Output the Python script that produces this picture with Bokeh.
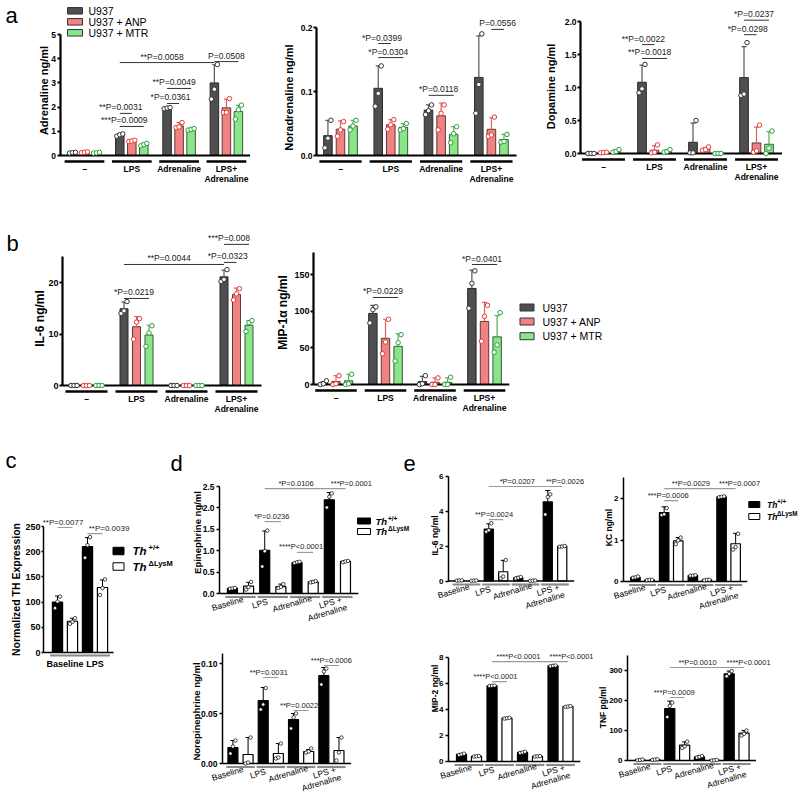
import math
from bokeh.plotting import figure
from bokeh.layouts import row, column
from bokeh.models import Range1d, FixedTicker
from bokeh.core.properties import value
from bokeh.embed import file_html
from bokeh.resources import INLINE

FONT = "Liberation Sans"

# ======================= DATA =======================
A_GROUPS = ["–", "LPS", "Adrenaline", "LPS+\nAdrenaline"]
A_SERIES = ["U937", "U937 + ANP", "U937 + MTR"]
M_GROUPS = ["Baseline", "LPS", "Adrenaline", "LPS +\nAdrenaline"]
C_GROUPS = ["Baseline", "LPS"]
GENO_MAIN = ["Th", "Th"]
GENO_SUP = ["+/+", "ΔLysM"]

# ---- panel a ----
A1_YLABEL = "Adrenaline ng/ml"
A1_TICKS = [0, 1, 2, 3, 4, 5]
A1_TICK_LABELS = ["0", "1", "2", "3", "4", "5"]
A1_MEAN = [[0.12, 0.85, 1.96, 3.00], [0.13, 0.60, 1.22, 1.97], [0.11, 0.45, 1.08, 1.82]]
A1_SD = [[0.02, 0.05, 0.03, 0.75], [0.02, 0.04, 0.14, 0.36], [0.02, 0.05, 0.04, 0.25]]
A1_PTS = [
    [[0.10, 0.12, 0.13], [0.80, 0.86, 0.89], [1.93, 1.96, 1.98], [2.33, 2.74, 3.76]],
    [[0.12, 0.13, 0.15], [0.58, 0.60, 0.63], [1.15, 1.18, 1.36], [1.78, 1.78, 2.35]],
    [[0.10, 0.11, 0.13], [0.40, 0.45, 0.50], [1.05, 1.08, 1.11], [1.50, 1.89, 2.08]],
]
A1_SIG = [(1, 0, 1, 1, 1.74, "**P=0.0031"), (1, 0, 1, 2, 1.20, "***P=0.0009"),
          (2, 0, 2, 2, 2.77, "**P=0.0049"), (2, 0, 2, 1, 2.15, "*P=0.0361"),
          (1, 0, 3, 0, 3.84, "**P=0.0058"), (3, 0, 3, 2, 3.88, "P=0.0508")]

A2_YLABEL = "Noradrenaline ng/ml"
A2_TICKS = [0, 0.1, 0.2]
A2_TICK_LABELS = ["0.0", "0.1", "0.2"]
A2_MEAN = [[0.031, 0.105, 0.071, 0.122], [0.041, 0.048, 0.062, 0.041], [0.046, 0.044, 0.033, 0.025]]
A2_SD = [[0.024, 0.035, 0.008, 0.065], [0.013, 0.008, 0.020, 0.018], [0.009, 0.006, 0.012, 0.008]]
A2_PTS = [
    [[0.012, 0.027, 0.055], [0.077, 0.097, 0.140], [0.064, 0.070, 0.079], [0.066, 0.111, 0.190]],
    [[0.030, 0.040, 0.053], [0.041, 0.048, 0.056], [0.040, 0.066, 0.079], [0.030, 0.032, 0.060]],
    [[0.040, 0.046, 0.055], [0.040, 0.042, 0.050], [0.020, 0.034, 0.045], [0.021, 0.022, 0.033]],
]
A2_SIG = [(1, 0, 1, 1, 0.175, "*P=0.0399"), (1, 0, 1, 2, 0.153, "*P=0.0304"),
          (2, 0, 2, 2, 0.094, "*P=0.0118"), (3, 1, 3, 2, 0.197, "P=0.0556")]

A3_YLABEL = "Dopamine ng/ml"
A3_TICKS = [0, 0.5, 1, 1.5, 2]
A3_TICK_LABELS = ["0.0", "0.5", "1.0", "1.5", "2.0"]
A3_MEAN = [[0.0, 1.08, 0.17, 1.15], [0.015, 0.05, 0.065, 0.16], [0.035, 0.03, 0.0, 0.14]]
A3_SD = [[0.0, 0.26, 0.29, 0.47], [0.005, 0.07, 0.025, 0.24], [0.02, 0.02, 0.0, 0.19]]
A3_PTS = [
    [[0.0, 0.0, 0.0], [0.92, 0.98, 1.35], [0.01, 0.01, 0.50], [0.88, 0.90, 1.68]],
    [[0.01, 0.015, 0.02], [0.01, 0.02, 0.13], [0.05, 0.06, 0.10], [0.02, 0.04, 0.43]],
    [[0.02, 0.03, 0.06], [0.02, 0.03, 0.06], [0.0, 0.0, 0.0], [0.0, 0.08, 0.34]],
]
A3_SIG = [(1, 0, 1, 1, 1.65, "**P=0.0022"), (1, 0, 1, 2, 1.44, "**P=0.0018"),
          (3, 0, 3, 2, 2.02, "*P=0.0237"), (3, 0, 3, 1, 1.80, "*P=0.0298")]

# ---- panel b ----
B1_YLABEL = "IL-6 ng/ml"
B1_TICKS = [0, 10, 20]
B1_TICK_LABELS = ["0", "10", "20"]
B1_MEAN = [[0, 14.9, 0, 21.1], [0, 11.4, 0, 17.7], [0, 9.8, 0, 11.7]]
B1_SD = [[0, 1.3, 0, 1.3], [0, 2.0, 0, 1.2], [0, 1.9, 0, 0.9]]
B1_PTS = [
    [[0, 0, 0], [14.0, 14.5, 16.3], [0, 0, 0], [20.2, 20.6, 22.5]],
    [[0, 0, 0], [9.0, 12.3, 13.0], [0, 0, 0], [16.6, 17.8, 18.8]],
    [[0, 0, 0], [7.6, 10.2, 11.6], [0, 0, 0], [10.5, 12.2, 12.6]],
]
B1_SIG = [(1, 0, 1, 2, 16.9, "*P=0.0219"), (1, 0, 3, 0, 23.5, "**P=0.0044"),
          (3, 0, 3, 1, 23.9, "*P=0.0323"), (3, 0, 3, 2, 27.4, "***P=0.008")]

B2_YLABEL = "MIP-1α ng/ml"
B2_TICKS = [0, 50, 100, 150]
B2_TICK_LABELS = ["0", "50", "100", "150"]
B2_MEAN = [[2, 97, 4, 131], [4, 63, 3, 86], [5, 52, 3, 65]]
B2_SD = [[2, 11, 7, 25], [8, 26, 6, 26], [9, 17, 6, 29]]
B2_PTS = [
    [[0, 1, 5], [84, 102, 106], [0, 1, 12], [104, 138, 155]],
    [[0, 1, 12], [42, 58, 89], [0, 0, 9], [59, 93, 108]],
    [[0, 1, 14], [32, 57, 68], [0, 0, 10], [44, 54, 98]],
]
B2_SIG = [(1, 0, 1, 2, 118.7, "*P=0.0229"), (3, 0, 3, 2, 163.7, "*P=0.0401")]

# ---- panel c ----
C_YLABEL = "Normalized TH Expression"
C_TICKS = [0, 50, 100, 150, 200, 250]
C_TICK_LABELS = ["0", "50", "100", "150", "200", "250"]
C_MEAN = [[100, 210], [62, 129]]
C_SD = [[12, 18], [6, 15]]
C_PTS = [[[88, 101, 111], [188, 213, 229]], [[57, 61, 68], [114, 128, 145]]]
C_SIG = [(0, 0, 0, 1, 248, "**P=0.0077"), (1, 0, 1, 1, 236, "**P=0.0039", 14)]

# ---- panel d ----
D1_YLABEL = "Epinephrine ng/ml"
D1_TICKS = [0, 0.5, 1, 1.5, 2, 2.5]
D1_TICK_LABELS = ["0.0", "0.5", "1.0", "1.5", "2.0", "2.5"]
D1_MEAN = [[0.12, 1.01, 0.72, 2.19], [0.17, 0.16, 0.27, 0.75]]
D1_SD = [[0.01, 0.45, 0.02, 0.17], [0.09, 0.06, 0.02, 0.01]]
D1_PTS = [
    [[0.11, 0.12, 0.13], [0.63, 0.99, 1.47], [0.71, 0.73, 0.74], [2.01, 2.26, 2.34]],
    [[0.09, 0.15, 0.27], [0.13, 0.155, 0.22], [0.26, 0.27, 0.29], [0.73, 0.75, 0.76]],
]
D1_SIG = [(1, 0, 1, 1, 1.68, "*P=0.0236"), (2, 0, 2, 1, 0.96, "****P<0.0001"),
          (1, 0, 3, 0, 2.45, "*P=0.0106"), (3, 0, 3, 1, 2.45, "***P=0.0001", 14)]

D2_YLABEL = "Norepinephrine ng/ml"
D2_TICKS = [0, 0.05, 0.1]
D2_TICK_LABELS = ["0.00", "0.05", "0.10"]
D2_MEAN = [[0.016, 0.063, 0.044, 0.088], [0.009, 0.010, 0.012, 0.013]]
D2_SD = [[0.007, 0.013, 0.006, 0.008], [0.017, 0.010, 0.002, 0.013]]
D2_PTS = [
    [[0.010, 0.017, 0.023], [0.054, 0.059, 0.0755], [0.035, 0.046, 0.050], [0.079, 0.092, 0.095]],
    [[0.0, 0.001, 0.026], [0.005, 0.006, 0.020], [0.011, 0.012, 0.015], [0.003, 0.011, 0.026]],
]
D2_SIG = [(1, 0, 1, 1, 0.086, "**P=0.0031"), (2, 0, 2, 1, 0.053, "**P=0.0022"),
          (3, 0, 3, 1, 0.098, "***P=0.0006", 0)]

# ---- panel e ----
E1_YLABEL = "IL-6 ng/ml"
E1_TICKS = [0, 2, 4, 6]
E1_TICK_LABELS = ["0", "2", "4", "6"]
E1_MEAN = [[0.03, 2.97, 0.19, 4.52], [0.02, 0.53, 0.02, 1.98]]
E1_SD = [[0.01, 0.30, 0.04, 0.65], [0.01, 0.65, 0.01, 0.02]]
E1_PTS = [
    [[0.02, 0.03, 0.04], [2.82, 2.90, 3.30], [0.15, 0.19, 0.23], [3.80, 4.80, 4.95]],
    [[0.01, 0.02, 0.03], [0.15, 0.25, 1.20], [0.01, 0.02, 0.03], [1.96, 1.97, 2.00]],
]
E1_SIG = [(1, 0, 1, 1, 3.51, "**P=0.0024"), (1, 0, 3, 0, 5.4, "*P=0.0207"),
          (3, 0, 3, 1, 5.4, "**P=0.0026", 10)]

E2_YLABEL = "KC ng/ml"
E2_TICKS = [0, 1, 2]
E2_TICK_LABELS = ["0", "1", "2"]
E2_MEAN = [[0.10, 1.66, 0.145, 2.04], [0.04, 0.98, 0.04, 0.91]]
E2_SD = [[0.02, 0.14, 0.01, 0.01], [0.005, 0.08, 0.005, 0.25]]
E2_PTS = [
    [[0.09, 0.10, 0.12], [1.60, 1.62, 1.77], [0.14, 0.14, 0.15], [2.03, 2.04, 2.05]],
    [[0.03, 0.04, 0.04], [0.90, 0.99, 1.06], [0.03, 0.04, 0.04], [0.77, 0.83, 1.15]],
]
E2_SIG = [(1, 0, 1, 1, 1.95, "***P=0.0006"), (1, 0, 3, 0, 2.24, "**P=0.0029"),
          (3, 0, 3, 1, 2.24, "***P=0.0007", 11)]

E3_YLABEL = "MIP-2 ng/ml"
E3_TICKS = [0, 2, 4, 6, 8]
E3_TICK_LABELS = ["0", "2", "4", "6", "8"]
E3_MEAN = [[0.55, 5.82, 0.70, 7.36], [0.40, 3.33, 0.40, 4.23]]
E3_SD = [[0.05, 0.03, 0.05, 0.03], [0.03, 0.03, 0.03, 0.03]]
E3_PTS = [
    [[0.50, 0.55, 0.60], [5.80, 5.82, 5.84], [0.65, 0.70, 0.75], [7.33, 7.36, 7.38]],
    [[0.38, 0.40, 0.42], [3.30, 3.33, 3.36], [0.38, 0.40, 0.42], [4.20, 4.23, 4.26]],
]
E3_SIG = [(1, 0, 1, 1, 6.15, "****P<0.0001"), (1, 0, 3, 0, 7.69, "****P<0.0001"),
          (3, 0, 3, 1, 7.69, "****P<0.0001", 11)]

E4_YLABEL = "TNF pg/ml"
E4_TICKS = [0, 100, 200, 300]
E4_TICK_LABELS = ["0", "100", "200", "300"]
E4_MEAN = [[2, 173, 12, 289], [3, 51, 1, 91]]
E4_SD = [[1, 25, 3, 9], [1, 11, 1, 9]]
E4_PTS = [
    [[1, 2, 3], [145, 182, 193], [10, 12, 15], [281, 289, 298]],
    [[2, 3, 4], [42, 47, 63], [0, 1, 2], [83, 89, 100]],
]
E4_SIG = [(1, 0, 1, 1, 210, "***P=0.0009"), (1, 0, 3, 0, 310, "**P=0.0010"),
          (3, 0, 3, 1, 310, "****P<0.0001", 12)]

# ======================= STYLES =======================
STYLE_AB = dict(
    fill=["#4f4f4f", "#f28282", "#8ae68a"], bar_line=["#2a2a2a", "#5a3a3a", "#3a5a3a"], bar_lw=1,
    err=["#555555", "#e06262", "#52b052"], err_lw=1.2, cap=2.5,
    pfill=["white", "white", "white"], pline=["#333333", "#e53935", "#2e9e3a"],
    psize=4.5, plw=1.0, jit=[-3, 0, 3],
    alw=2.2, tick_out=3, lab_standoff=1, tick_fs="8.5px", ylab_fs="11px",
    xext=0.5, u_dy=6, u_hw=0.42, u_col="black", u_lw=2.5,
    rot=False, glab_fs="8.5px", glab_style="bold", glab_dy=[13.5, 23.5],
    sig_col="#333333", sig_lw=1, sig_fs="8.5px", starw=2.5,
)
STYLE_TH = dict(
    fill=["black", "white"], bar_line=["black", "black"], bar_lw=1.2,
    err=["black", "black"], err_lw=1, cap=2.5,
    pfill=["white", "white"], pline=["black", "black"], psize=3.5, plw=0.7, jit=[-2.5, 0, 2.5],
    alw=1.5, tick_out=3, lab_standoff=2, tick_fs="8.5px", ylab_fs="9.5px",
    xext=0.65, u_dy=3.5, u_hw=0.47, u_col="#8a8a8a", u_lw=2.2,
    rot=True, glab_fs="8.5px", glab_style="normal",
    rot_single=(-13, 10), rot_double=[(-7, 9), (-10, 19)],
    sig_col="#9a9a9a", sig_lw=1.2, sig_fs="7.5px", starw=1.0,
)


def make_panel(sp, st):
    fl, ft, fw, fh = sp["box"]
    ax, G0, S, Y0, K = sp["axis_x"], sp["G0"], sp["S"], sp["Y0"], sp["K"]

    def X(px):
        return (px - G0) / S

    def Y(py):
        return (Y0 - py) / K

    p = figure(width=fw, height=fh,
               x_range=Range1d(X(fl), X(fl + fw)), y_range=Range1d(Y(ft + fh), Y(ft)),
               x_axis_location=None, toolbar_location=None, output_backend="svg",
               min_border_left=0, min_border_right=0, min_border_top=0, min_border_bottom=0,
               outline_line_color=None, background_fill_color="white",
               border_fill_color="white")
    p.grid.visible = False

    # y axis, fixed at its place inside the frame
    yax = p.yaxis[0]
    yax.fixed_location = X(ax)
    yax.bounds = (0, sp["ytop"])
    yax.ticker = FixedTicker(ticks=sp["ticks"], minor_ticks=[])
    yax.major_label_overrides = dict(zip(sp["ticks"], sp["tick_labels"]))
    yax.axis_line_width = st["alw"]
    yax.axis_line_color = "black"
    yax.major_tick_line_width = st["alw"]
    yax.major_tick_line_color = "black"
    yax.major_tick_out = st["tick_out"]
    yax.major_tick_in = 0
    yax.minor_tick_line_color = None
    yax.major_label_standoff = st["lab_standoff"]
    yax.major_label_text_font = FONT
    yax.major_label_text_font_size = st["tick_fs"]
    yax.major_label_text_font_style = "bold"
    yax.major_label_text_color = "black"

    # y axis title
    lx, ly = sp["ylab_pos"]
    p.text(x=[X(lx)], y=[Y(ly)], text=[sp["ylabel"]], angle=math.pi / 2,
           text_align="center", text_baseline="middle",
           text_font=value(FONT), text_font_size=st["ylab_fs"],
           text_font_style="bold", text_color="black")

    groups = sp["groups"]
    ng = len(groups)
    off = sp["off"]
    ns = len(sp["mean"])

    # bars
    for s in range(ns):
        xs = [g + off[s] for g in range(ng)]
        p.vbar(x=xs, bottom=0, top=sp["mean"][s], width=sp["bw"],
               fill_color=st["fill"][s], line_color=st["bar_line"][s], line_width=st["bar_lw"])

    # x axis line
    p.segment(x0=[X(ax)], y0=[0], x1=[ng - 1 + st["xext"]], y1=[0],
              line_color="black", line_width=st["alw"])

    # group underlines
    uy = -st["u_dy"] / K
    hw = st["u_hw"]
    p.segment(x0=[g - hw for g in range(ng)], y0=[uy] * ng,
              x1=[g + hw for g in range(ng)], y1=[uy] * ng,
              line_color=st["u_col"], line_width=st["u_lw"])

    # error bars and points
    for s in range(ns):
        xs = [g + off[s] for g in range(ng)]
        tops = [m + e for m, e in zip(sp["mean"][s], sp["sd"][s])]
        cap = st["cap"] / S
        p.segment(x0=xs, y0=sp["mean"][s], x1=xs, y1=tops,
                  line_color=st["err"][s], line_width=st["err_lw"])
        p.segment(x0=[x - cap for x in xs], y0=tops, x1=[x + cap for x in xs], y1=tops,
                  line_color=st["err"][s], line_width=st["err_lw"])
        ptx, pty = [], []
        for g, vals in enumerate(sp["pts"][s]):
            for k, v in enumerate(vals):
                ptx.append(xs[g] + st["jit"][k] / S)
                pty.append(v)
        p.scatter(x=ptx, y=pty, marker="circle", size=st["psize"],
                  fill_color=st["pfill"][s], line_color=st["pline"][s], line_width=st["plw"])

    # group labels
    for g, lab in enumerate(groups):
        lines = lab.split("\n")
        if st["rot"]:
            offs = [st["rot_single"]] if len(lines) == 1 else st["rot_double"]
            for t, (dxp, dyp) in zip(lines, offs):
                p.text(x=[g + dxp / S], y=[-dyp / K], text=[t], angle=0.29,
                       text_align="center", text_baseline="middle",
                       text_font=value(FONT), text_font_size=st["glab_fs"],
                       text_font_style=st["glab_style"], text_color="black")
        else:
            for t, dyp in zip(lines, st["glab_dy"]):
                p.text(x=[g], y=[-dyp / K], text=[t],
                       text_align="center", text_baseline="middle",
                       text_font=value(FONT), text_font_size=st["glab_fs"],
                       text_font_style=st["glab_style"], text_color="black")

    # significance brackets
    for item in sp["sig"]:
        g1, s1, g2, s2, yv, txt = item[:6]
        x1 = g1 + off[s1]
        x2 = g2 + off[s2]
        p.segment(x0=[x1], y0=[yv], x1=[x2], y1=[yv],
                  line_color=st["sig_col"], line_width=st["sig_lw"])
        nst = len(txt) - len(txt.lstrip("*"))
        dxp = item[6] if len(item) > 6 else -nst * st["starw"]
        p.text(x=[(x1 + x2) / 2 + dxp / S], y=[yv + 1.0 / K], text=[txt],
               text_align="center", text_baseline="bottom",
               text_font=value(FONT), text_font_size=st["sig_fs"], text_color="#1a1a1a")

    # legend
    lg = sp.get("legend")
    if lg:
        for i, yy in enumerate(lg["ys"]):
            p.rect(x=[X(lg["rx"])], y=[Y(yy)], width=lg["rw"], height=lg["rh"],
                   width_units="screen", height_units="screen",
                   fill_color=lg["fill"][i], line_color=lg["line"][i], line_width=1)
            p.text(x=[X(lg["tx"])], y=[Y(yy)], text=[lg["labels"][i]],
                   text_align="left", text_baseline="middle",
                   text_font=value(FONT), text_font_size=lg["fs"],
                   text_font_style=lg.get("style", "normal"), text_color="black")
            if "sups" in lg:
                p.text(x=[X(lg["sx"])], y=[Y(yy - lg["lift"])], text=[lg["sups"][i]],
                       text_align="left", text_baseline="middle",
                       text_font=value(FONT), text_font_size=lg["sfs"],
                       text_font_style="bold", text_color="black")

    # panel letters
    for letter, lx2, ly2 in sp.get("letters", []):
        p.text(x=[X(lx2)], y=[Y(ly2)], text=[letter], text_align="left", text_baseline="alphabetic",
               text_font=value(FONT), text_font_size="22px", text_color="black")
    return p


AB_LEG_FILL = STYLE_AB["fill"]
AB_LEG_LINE = ["#333333"] * 3

a1 = make_panel(dict(box=(0, 0, 262, 190), axis_x=59.5, G0=84, S=47.3, Y0=155, K=24.2,
                     ytop=5, ticks=A1_TICKS, tick_labels=A1_TICK_LABELS,
                     ylabel=A1_YLABEL, ylab_pos=(43.5, 90),
                     groups=A_GROUPS, off=[-0.254, 0, 0.254], bw=0.18,
                     mean=A1_MEAN, sd=A1_SD, pts=A1_PTS, sig=A1_SIG,
                     legend=dict(rx=74.5, rw=15, rh=6.5, tx=88, ys=[10.3, 21.3, 32.3], fs="10.5px",
                                 labels=A_SERIES, fill=AB_LEG_FILL, line=AB_LEG_LINE),
                     letters=[("a", 5, 15)]), STYLE_AB)
a2 = make_panel(dict(box=(262, 0, 260, 190), axis_x=316, G0=340, S=50.3, Y0=155, K=640,
                     ytop=0.2, ticks=A2_TICKS, tick_labels=A2_TICK_LABELS,
                     ylabel=A2_YLABEL, ylab_pos=(288, 97),
                     groups=A_GROUPS, off=[-0.25, 0, 0.25], bw=0.17,
                     mean=A2_MEAN, sd=A2_SD, pts=A2_PTS, sig=A2_SIG), STYLE_AB)
a3 = make_panel(dict(box=(522, 0, 278, 190), axis_x=580, G0=603, S=51, Y0=153, K=66,
                     ytop=2, ticks=A3_TICKS, tick_labels=A3_TICK_LABELS,
                     ylabel=A3_YLABEL, ylab_pos=(550, 86),
                     groups=A_GROUPS, off=[-0.245, 0, 0.245], bw=0.17,
                     mean=A3_MEAN, sd=A3_SD, pts=A3_PTS, sig=A3_SIG), STYLE_AB)

STYLE_B = dict(STYLE_AB, tick_fs="9px", ylab_fs="12px")
b1 = make_panel(dict(box=(0, 190, 262, 250), axis_x=62, G0=86, S=50, Y0=385, K=5.15,
                     ytop=25, ticks=B1_TICKS, tick_labels=B1_TICK_LABELS,
                     ylabel=B1_YLABEL, ylab_pos=(39, 318),
                     groups=A_GROUPS, off=[-0.25, 0, 0.25], bw=0.16,
                     mean=B1_MEAN, sd=B1_SD, pts=B1_PTS, sig=B1_SIG,
                     letters=[("b", 6, 243)]), STYLE_B)
b2 = make_panel(dict(box=(262, 190, 538, 250), axis_x=313, G0=335.5, S=49.5, Y0=384, K=0.733,
                     ytop=180, ticks=B2_TICKS, tick_labels=B2_TICK_LABELS,
                     ylabel=B2_YLABEL, ylab_pos=(282, 312),
                     groups=A_GROUPS, off=[-0.255, 0, 0.255], bw=0.17,
                     mean=B2_MEAN, sd=B2_SD, pts=B2_PTS, sig=B2_SIG,
                     legend=dict(rx=526.5, rw=14, rh=7, tx=542, ys=[307, 321, 335.7], fs="10.5px",
                                 labels=A_SERIES, fill=AB_LEG_FILL, line=AB_LEG_LINE)), STYLE_B)

TH_FILL = ["black", "white"]
TH_LINE = ["black", "black"]
STYLE_C = dict(STYLE_TH, rot=False, glab_fs="9px", glab_style="bold", glab_dy=[11],
               tick_fs="9px", ylab_fs="10.5px", tick_out=2, lab_standoff=1,
               sig_fs="8px", xext=0.62, u_hw=0.5, u_dy=3, starw=1.0)
c = make_panel(dict(box=(0, 440, 186, 356), axis_x=43, G0=64.5, S=30, Y0=652, K=0.504,
                    ytop=250, ticks=C_TICKS, tick_labels=C_TICK_LABELS,
                    ylabel=C_YLABEL, ylab_pos=(15, 589),
                    groups=C_GROUPS, off=[-0.25, 0.25], bw=0.34,
                    mean=C_MEAN, sd=C_SD, pts=C_PTS, sig=C_SIG,
                    legend=dict(rx=118, rw=11, rh=7.5, tx=132, sx=148, ys=[550.5, 566], lift=3.5,
                                fs="11.5px", sfs="7.5px", style="bold italic",
                                labels=GENO_MAIN, sups=GENO_SUP, fill=TH_FILL, line=TH_LINE),
                    letters=[("c", 5, 460), ("d", 170, 463)]), STYLE_C)

STYLE_D = dict(STYLE_TH)
d1 = make_panel(dict(box=(186, 440, 234, 185), axis_x=219, G0=240, S=32.3, Y0=593, K=42.8,
                     ytop=2.5, ticks=D1_TICKS, tick_labels=D1_TICK_LABELS,
                     ylabel=D1_YLABEL, ylab_pos=(197, 532),
                     groups=M_GROUPS, off=[-0.25, 0.25], bw=0.31,
                     mean=D1_MEAN, sd=D1_SD, pts=D1_PTS, sig=D1_SIG,
                     legend=dict(rx=363.5, rw=13, rh=6, tx=375, sx=387.5, ys=[520.5, 531], lift=3,
                                 fs="9.5px", sfs="6.5px", style="bold italic",
                                 labels=GENO_MAIN, sups=GENO_SUP, fill=TH_FILL, line=TH_LINE),
                     letters=[("e", 403, 463)]), STYLE_D)
d2 = make_panel(dict(box=(186, 625, 234, 171), axis_x=222, G0=240, S=30.3, Y0=763, K=1000,
                     ytop=0.11, ticks=D2_TICKS, tick_labels=D2_TICK_LABELS,
                     ylabel=D2_YLABEL, ylab_pos=(196, 711),
                     groups=M_GROUPS, off=[-0.25, 0.25], bw=0.33,
                     mean=D2_MEAN, sd=D2_SD, pts=D2_PTS, sig=D2_SIG), STYLE_D)

STYLE_E = dict(STYLE_TH, tick_fs="8px", ylab_fs="8.5px")
e1 = make_panel(dict(box=(420, 440, 175, 185), axis_x=448, G0=466, S=29.5, Y0=580.5, K=17.5,
                     ytop=6, ticks=E1_TICKS, tick_labels=E1_TICK_LABELS,
                     ylabel=E1_YLABEL, ylab_pos=(434.5, 535),
                     groups=M_GROUPS, off=[-0.245, 0.245], bw=0.31,
                     mean=E1_MEAN, sd=E1_SD, pts=E1_PTS, sig=E1_SIG), STYLE_E)
e2 = make_panel(dict(box=(595, 440, 205, 185), axis_x=623, G0=642, S=28.7, Y0=581, K=41.5,
                     ytop=2.5, ticks=E2_TICKS, tick_labels=E2_TICK_LABELS,
                     ylabel=E2_YLABEL, ylab_pos=(608, 527),
                     groups=M_GROUPS, off=[-0.245, 0.245], bw=0.33,
                     mean=E2_MEAN, sd=E2_SD, pts=E2_PTS, sig=E2_SIG,
                     legend=dict(rx=753.8, rw=11, rh=6, tx=766.5, sx=776.5, ys=[504, 516], lift=3,
                                 fs="8.5px", sfs="6.3px", style="bold italic",
                                 labels=GENO_MAIN, sups=GENO_SUP, fill=TH_FILL, line=TH_LINE)), STYLE_E)
e3 = make_panel(dict(box=(420, 625, 175, 171), axis_x=448, G0=468.5, S=30.5, Y0=761, K=13,
                     ytop=8, ticks=E3_TICKS, tick_labels=E3_TICK_LABELS,
                     ylabel=E3_YLABEL, ylab_pos=(434.5, 688),
                     groups=M_GROUPS, off=[-0.245, 0.245], bw=0.33,
                     mean=E3_MEAN, sd=E3_SD, pts=E3_PTS, sig=E3_SIG), STYLE_E)
e4 = make_panel(dict(box=(595, 625, 205, 171), axis_x=627, G0=647, S=29.7, Y0=760, K=0.3,
                     ytop=350, ticks=E4_TICKS, tick_labels=E4_TICK_LABELS,
                     ylabel=E4_YLABEL, ylab_pos=(602, 707),
                     groups=M_GROUPS, off=[-0.25, 0.25], bw=0.34,
                     mean=E4_MEAN, sd=E4_SD, pts=E4_PTS, sig=E4_SIG), STYLE_E)

root = column(
    row(a1, a2, a3, spacing=0),
    row(b1, b2, spacing=0),
    row(c, column(d1, d2, spacing=0),
        column(row(e1, e2, spacing=0), row(e3, e4, spacing=0), spacing=0), spacing=0),
    spacing=0,
)

open("out.html", "w").write(file_html(root, INLINE, "Figure"))
